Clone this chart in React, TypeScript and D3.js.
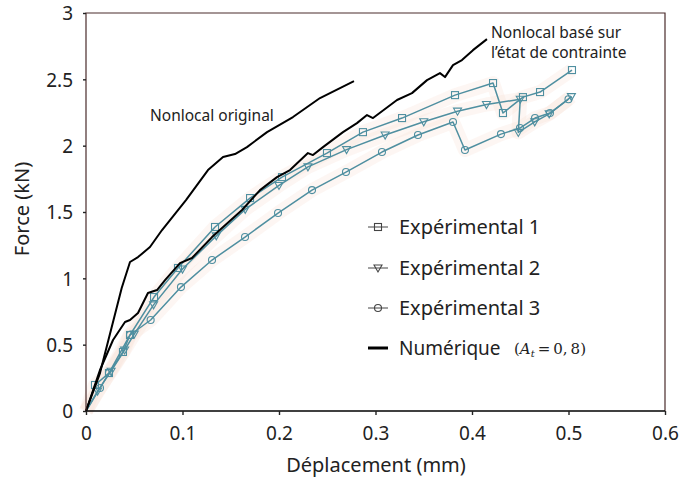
import { useEffect, useRef } from 'react';
import * as d3 from 'd3';

// ── Data ──

type Pt = [number, number];

const X_TICKS = [0, 0.1, 0.2, 0.3, 0.4, 0.5, 0.6];
const Y_TICKS = [0, 0.5, 1, 1.5, 2, 2.5, 3];

const NONLOCAL_ORIGINAL: Pt[] = [
  [0, 0], [0.0145, 0.286], [0.037, 0.927], [0.0456, 1.123], [0.0539, 1.16],
  [0.0663, 1.236], [0.0788, 1.364], [0.1036, 1.59], [0.1264, 1.816],
  [0.142, 1.914], [0.1544, 1.937], [0.1668, 1.989], [0.1876, 2.102],
  [0.2145, 2.216], [0.2425, 2.359], [0.2632, 2.434], [0.2777, 2.487],
];

const NONLOCAL_CONTRAINTE: Pt[] = [
  [0, 0], [0.0145, 0.309], [0.028, 0.535], [0.0404, 0.671], [0.0456, 0.686],
  [0.0539, 0.739], [0.0642, 0.889], [0.0736, 0.912], [0.0819, 0.987],
  [0.0974, 1.115], [0.1098, 1.153], [0.1306, 1.311], [0.1617, 1.515],
  [0.1803, 1.665], [0.1979, 1.763], [0.2114, 1.816], [0.23, 1.944],
  [0.2352, 1.929], [0.2456, 1.989], [0.2663, 2.102], [0.2808, 2.17],
  [0.2912, 2.231], [0.2974, 2.208], [0.3223, 2.344], [0.3378, 2.396],
  [0.3534, 2.494], [0.3668, 2.547], [0.372, 2.517], [0.3803, 2.607],
  [0.3896, 2.645], [0.401, 2.72], [0.4155, 2.803],
];

const EXP1: Pt[] = [
  [0, 0], [0.0093, 0.196], [0.0238, 0.286], [0.0383, 0.445], [0.0456, 0.573],
  [0.0705, 0.859], [0.0953, 1.078], [0.1337, 1.387], [0.17, 1.605],
  [0.2031, 1.763], [0.2497, 1.944], [0.287, 2.102], [0.3275, 2.208],
  [0.3824, 2.381], [0.4218, 2.472], [0.4321, 2.246], [0.4528, 2.366],
  [0.4705, 2.404], [0.5036, 2.57],
];

const EXP2: Pt[] = [
  [0, 0], [0.012, 0.15], [0.026, 0.3], [0.04, 0.46], [0.05, 0.58],
  [0.07, 0.8], [0.1, 1.07], [0.135, 1.32], [0.165, 1.52], [0.2, 1.7],
  [0.23, 1.84], [0.27, 1.97], [0.31, 2.08], [0.35, 2.18], [0.385, 2.26],
  [0.415, 2.31], [0.45, 2.35], [0.448, 2.1], [0.465, 2.18], [0.48, 2.24],
  [0.503, 2.37],
];

const EXP3: Pt[] = [
  [0, 0], [0.0145, 0.173], [0.0238, 0.286], [0.0456, 0.573], [0.067, 0.686],
  [0.0984, 0.934], [0.1306, 1.138], [0.1648, 1.311], [0.199, 1.492],
  [0.2342, 1.665], [0.2694, 1.801], [0.3067, 1.952], [0.344, 2.08],
  [0.3803, 2.178], [0.3927, 1.967], [0.43, 2.087], [0.4497, 2.133],
  [0.4653, 2.208], [0.4808, 2.246], [0.5, 2.35],
];

const LEGEND_LABELS = ['Expérimental 1', 'Expérimental 2', 'Expérimental 3', 'Numérique'];

// ── Layout / style ──

const W = 684;
const H = 479;
const M = { left: 86, right: 665, top: 13, bottom: 411 };
const TEAL = '#4f8fa0';
const FONT = '"Noto Sans", "Open Sans", sans-serif';

type Marker = 'square' | 'triangle' | 'circle';

function drawMarker(
  g: d3.Selection<SVGGElement, unknown, null, undefined>,
  kind: Marker,
  x: number,
  y: number,
) {
  if (kind === 'square') {
    g.append('rect')
      .attr('x', x - 3.5)
      .attr('y', y - 3.5)
      .attr('width', 7)
      .attr('height', 7)
      .attr('fill', 'none')
      .attr('stroke', TEAL)
      .attr('stroke-width', 1.1);
  } else if (kind === 'triangle') {
    g.append('path')
      .attr('d', `M${x - 4},${y - 3} L${x + 4},${y - 3} L${x},${y + 4} Z`)
      .attr('fill', 'none')
      .attr('stroke', TEAL)
      .attr('stroke-width', 1.1);
  } else {
    g.append('circle')
      .attr('cx', x)
      .attr('cy', y)
      .attr('r', 3.5)
      .attr('fill', 'none')
      .attr('stroke', TEAL)
      .attr('stroke-width', 1.1);
  }
}

export default function App() {
  const svgRef = useRef<SVGSVGElement>(null);

  useEffect(() => {
    const svgEl = svgRef.current;
    if (!svgEl) return;
    const svg = d3.select(svgEl);
    svg.selectAll('*').remove();

    const x = d3.scaleLinear().domain([0, 0.6]).range([M.left, M.right]);
    const y = d3.scaleLinear().domain([0, 3]).range([M.bottom, M.top]);
    const line = d3
      .line<Pt>()
      .x((d) => x(d[0]))
      .y((d) => y(d[1]));

    svg.append('rect').attr('width', W).attr('height', H).attr('fill', '#fff');

    // faint scan halo behind the experimental curves
    const halo = svg.append('g');
    [EXP1, EXP2, EXP3].forEach((data) => {
      halo
        .append('path')
        .attr('d', line(data) ?? '')
        .attr('fill', 'none')
        .attr('stroke', 'rgba(248,225,215,0.3)')
        .attr('stroke-width', 14)
        .attr('stroke-linejoin', 'round');
    });

    // experimental curves
    const expG = svg.append('g');
    const series: [Pt[], Marker][] = [
      [EXP1, 'square'],
      [EXP2, 'triangle'],
      [EXP3, 'circle'],
    ];
    series.forEach(([data, kind]) => {
      expG
        .append('path')
        .attr('d', line(data) ?? '')
        .attr('fill', 'none')
        .attr('stroke', TEAL)
        .attr('stroke-width', 1.5)
        .attr('stroke-linejoin', 'round');
      data.slice(1).forEach((d) => drawMarker(expG, kind, x(d[0]), y(d[1])));
    });

    // numerical curves
    [NONLOCAL_ORIGINAL, NONLOCAL_CONTRAINTE].forEach((data) => {
      svg
        .append('path')
        .attr('d', line(data) ?? '')
        .attr('fill', 'none')
        .attr('stroke', '#000')
        .attr('stroke-width', 2)
        .attr('stroke-linejoin', 'round');
    });

    // frame
    svg
      .append('path')
      .attr('d', `M${M.left},${M.bottom} V${M.top} H${M.right} V${M.bottom}`)
      .attr('fill', 'none')
      .attr('stroke', '#4a2c2c')
      .attr('stroke-width', 1.2);
    svg
      .append('line')
      .attr('x1', M.left)
      .attr('x2', M.right)
      .attr('y1', M.bottom)
      .attr('y2', M.bottom)
      .attr('stroke', '#000')
      .attr('stroke-width', 1.4);

    // axes
    const xAxis = svg
      .append('g')
      .attr('transform', `translate(0,${M.bottom})`)
      .call(
        d3
          .axisBottom(x)
          .tickValues(X_TICKS)
          .tickSize(4)
          .tickPadding(12)
          .tickFormat((d) => String(d)),
      );
    const yAxis = svg
      .append('g')
      .attr('transform', `translate(${M.left},0)`)
      .call(
        d3
          .axisLeft(y)
          .tickValues(Y_TICKS)
          .tickSize(3)
          .tickPadding(10)
          .tickFormat((d) => String(d)),
      );
    [xAxis, yAxis].forEach((a) => {
      a.select('.domain').remove();
      a.selectAll('line').attr('stroke', '#222').attr('stroke-width', 1.4);
      a.selectAll('text')
        .attr('font-family', FONT)
        .attr('font-size', 19)
        .attr('fill', '#222');
    });
    yAxis.selectAll('text').attr('dy', '0.36em');

    // axis titles
    svg
      .append('text')
      .attr('x', 376)
      .attr('y', 472)
      .attr('text-anchor', 'middle')
      .attr('font-family', FONT)
      .attr('font-size', 20)
      .attr('fill', '#222')
      .text('Déplacement (mm)');
    svg
      .append('text')
      .attr('transform', 'translate(29,209) rotate(-90)')
      .attr('text-anchor', 'middle')
      .attr('font-family', FONT)
      .attr('font-size', 20)
      .attr('fill', '#222')
      .text('Force (kN)');

    // annotations
    const note = (tx: number, ty: number, s: string) =>
      svg
        .append('text')
        .attr('x', tx)
        .attr('y', ty)
        .attr('font-family', FONT)
        .attr('font-size', 15.5)
        .attr('fill', '#222')
        .text(s);
    note(150, 121, 'Nonlocal original');
    note(491, 38, 'Nonlocal basé sur');
    note(491, 58, 'l’état de contrainte');

    // legend
    const legend = svg.append('g');
    const rowY = [227, 268, 308, 348];
    const kinds: (Marker | null)[] = ['square', 'triangle', 'circle', null];
    LEGEND_LABELS.forEach((label, i) => {
      const ly = rowY[i];
      const k = kinds[i];
      legend
        .append('line')
        .attr('x1', 368)
        .attr('x2', 388)
        .attr('y1', ly)
        .attr('y2', ly)
        .attr('stroke', k ? '#444' : '#000')
        .attr('stroke-width', k ? 1 : 3);
      if (k) drawMarker(legend, k, 378, ly);
      legend
        .append('text')
        .attr('x', 399)
        .attr('y', ly + 7)
        .attr('font-family', FONT)
        .attr('font-size', k ? 20 : 19)
        .attr('fill', '#222')
        .text(label);
    });
    legend.selectAll('rect, path, circle').attr('stroke', '#444');

    // math note next to "Numérique"
    const math = legend
      .append('text')
      .attr('x', 514)
      .attr('y', rowY[3] + 6)
      .attr('font-family', '"DejaVu Serif", "Liberation Serif", serif')
      .attr('font-size', 15)
      .attr('fill', '#222');
    math.append('tspan').text('(');
    math.append('tspan').attr('font-style', 'italic').text('A');
    math.append('tspan').attr('font-style', 'italic').attr('font-size', 10).attr('dy', 3).text('t');
    math.append('tspan').attr('dy', -3).text('\u2009=\u20090,\u20098)');

    return () => {
      svg.selectAll('*').remove();
    };
  }, []);

  return (
    <svg
      ref={svgRef}
      width={W}
      height={H}
      style={{ position: 'absolute', left: 0, top: 0, display: 'block' }}
    />
  );
}
